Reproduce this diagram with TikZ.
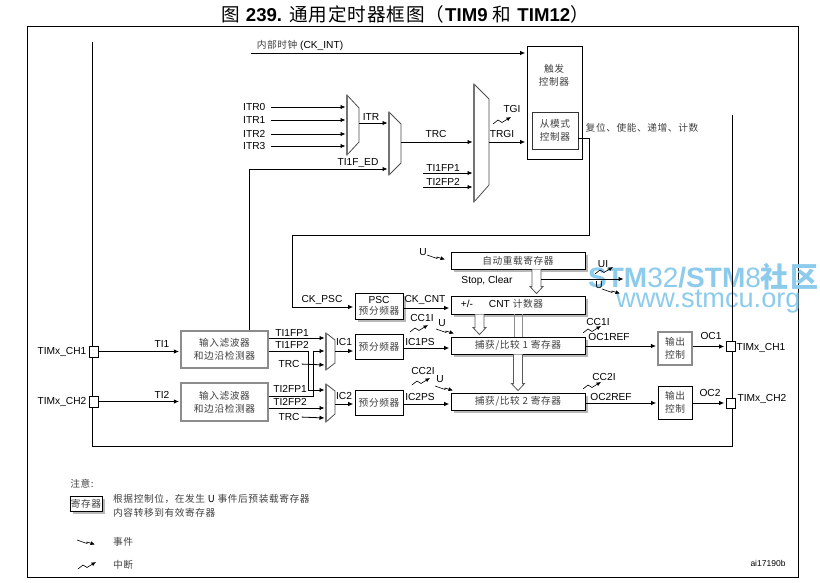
\documentclass[tikz,border=0pt]{standalone}
\usepackage{fontspec}
\setmainfont{Liberation Sans}
\newfontfamily\cjk[LetterSpace=6]{Noto Sans CJK SC}
\newfontfamily\cjkhead[LetterSpace=5]{Noto Sans CJK SC}
\usetikzlibrary{arrows.meta,calc,shadows}
\newcommand{\zh}[1]{{\cjk\fontsize{9.7}{13}\selectfont\color{black!75}#1}}
\definecolor{wmark}{RGB}{140,203,236}
\tikzset{
	sig/.style={line width=0.8pt, shorten >=1.5pt, -{Latex[length=5pt,width=4.5pt]}},
	wire/.style={line width=0.8pt},
	lab/.style={inner sep=0pt, text height=7.2pt, text depth=0pt},
	boxsize/.style 2 args={minimum width=#1pt, minimum height=#2pt},
	plainbox/.style={draw, line width=0.8pt, fill=white, inner sep=0pt, align=center},
	greybox/.style={plainbox, draw=black!45, line width=1.1pt},
	regbox/.style={plainbox, general shadow={fill=black!28, shadow xshift=2.5pt, shadow yshift=-2.5pt}},
	pinbox/.style={draw, line width=0.8pt, fill=white, inner sep=0pt},
	muxline/.style={line width=0.8pt, draw=black!70, fill=white},
	hollow/.style={line width=0.8pt, draw=black!65, fill=white},
	irqmark/.pic={\draw[line width=0.6pt, -{Latex[length=4.5pt,width=4pt]}] (0,0) -- (5,-4) -- (9,-1.5) -- (13,-4) -- (18,-7);},
	eventmark/.pic={\draw[line width=0.6pt, -{Latex[length=4.5pt,width=4pt]}] (0,0) -- (10,3.5) -- (10,2) -- (18,4.5);}
}

\begin{document}
\begin{tikzpicture}[x=1pt, y=-1pt, font=\fontsize{10.2}{13}\selectfont]
	\useasboundingbox (0,0) rectangle (820,582);
	% title and frame
	\node[inner sep=0pt, font=\fontsize{18.6}{20}\selectfont] (title) at (405,14) {{\cjkhead 图} \textbf{239.} {\cjkhead 通用定时器框图（}\textbf{TIM9} {\cjkhead 和} \textbf{TIM12}{\cjkhead ）}};
	\draw[line width=0.9pt] (27,26) rectangle (798,577);
	% watermark, below the lines
	\node[inner sep=0pt, anchor=west, text=wmark, font=\fontsize{28}{30}\selectfont] (wmarkA) at (588,277) {\textbf{STM}32\textbf{/STM}8\textbf{\cjk 社区}};
	\node[inner sep=0pt, anchor=west, text=wmark, font=\fontsize{27.2}{30}\selectfont] (wmarkB) at (616,302) {www.stmcu.org};
	% bus round the timer
	\coordinate (busA) at (92,42);
	\coordinate (busB) at (92,446);
	\coordinate (busC) at (732,446);
	\coordinate (busD) at (732,115);
	\draw[wire] (busA) -- (busB) -- (busC) -- (busD);
	% boxes
	\node[plainbox, boxsize={55}{113}, general shadow={fill=black!40, shadow xshift=0.8pt, shadow yshift=-0.8pt}] (trig) at (554.5,102.5) {};
	\node[inner sep=0pt, align=center] (trigtxt) at (554,75) {\zh{触发}\\\zh{控制器}};
	\node[plainbox, boxsize={46}{37}, draw=black!80] (slave) at (555,130.5) {\zh{从模式}\\\zh{控制器}};
	\node[regbox, boxsize={134}{17}] (arr) at (518,260.5) {\zh{自动重载寄存器}};
	\node[regbox, boxsize={134}{18}] (cnt) at (518,305) {};
	\node[lab] (cntsign) at (467,304) {+/-};
	\node[lab] (cnttxt) at (516,304) {CNT \zh{计数器}};
	\node[regbox, boxsize={48}{26}] (psc) at (379,306) {PSC\\[-1.5pt]\zh{预分频器}};
	\node[plainbox, boxsize={48}{25}] (preA) at (379,346.5) {\zh{预分频器}};
	\node[plainbox, boxsize={48}{25}] (preB) at (379,402.5) {\zh{预分频器}};
	\node[greybox, boxsize={87}{37}] (filtA) at (224.5,349.5) {\zh{输入滤波器}\\\zh{和边沿检测器}};
	\node[greybox, boxsize={87}{38}] (filtB) at (224.5,402) {\zh{输入滤波器}\\\zh{和边沿检测器}};
	\node[greybox, boxsize={34}{33}] (outA) at (675,348.5) {\zh{输出}\\\zh{控制}};
	\node[plainbox, boxsize={34}{33}] (outB) at (675,402.5) {\zh{输出}\\\zh{控制}};
	% block arrows between registers
	\draw[line width=1pt, draw=black!45] (514,314) -- (514,337) (522,314) -- (522,337);
	\node[regbox, boxsize={134}{17}] (capA) at (518,345.5) {\zh{捕获/比较 1 寄存器}};
	\node[regbox, boxsize={134}{17}] (capB) at (518,401.5) {\zh{捕获/比较 2 寄存器}};
	\foreach \from/\to/\xx in {arr/cnt/536.5, cnt/capA/479.5, capA/capB/518} {
		\coordinate (bs) at (\from.south -| \xx,0);
		\coordinate (be) at ($(\to.north -| \xx,0)+(0,-2)$);
		\draw[hollow] ($(bs)+(-4.5,0)$) -- ($(be)+(-4.5,-7)$) -- ($(be)+(-6.5,-7)$) -- (be) -- ($(be)+(6.5,-7)$) -- ($(be)+(4.5,-7)$) -- ($(bs)+(4.5,0)$);
	}
	% multiplexers
	\foreach \xa/\xb/\ya/\yb/\yc/\yd in {347/359/95/108/142/155, 389/401/112/124/163/175, 474/489/84/99/185/202, 326/335/333/340/363/370, 326/335/384/391/414/422} {
		\draw[muxline] (\xa,\ya) -- (\xb,\yb) -- (\xb,\yc) -- (\xa,\yd) -- cycle;
		\draw[line width=1.2pt, black!55] (\xa,\ya) -- (\xa,\yd);
	}
	\coordinate (mxA) at (347,123);
	\coordinate (mxAo) at (359,123);
	\coordinate (mxB) at (389,142);
	\coordinate (mxBo) at (401,142);
	\coordinate (mxC) at (474,142);
	\coordinate (mxCo) at (489,142);
	\coordinate (mxDa) at (326,338);
	\coordinate (mxDb) at (326,351);
	\coordinate (mxDc) at (326,365);
	\coordinate (mxDo) at (335,351);
	\coordinate (mxEa) at (326,390);
	\coordinate (mxEb) at (326,408);
	\coordinate (mxEc) at (326,418);
	\coordinate (mxEo) at (335,404);
	% plain labels
	\foreach \nm/\xx/\yy/\txt in {lbITR/371/117/ITR, lbTRC/436/134/TRC, lbTRGI/502/134/TRGI, lbTGI/512/109/TGI,
		lbED/358/162/TI1F\_ED, lbFPa/443/168/TI1FP1, lbFPb/443/182/TI2FP2, lbPSC/322/299/CK\_PSC, lbCNT/425/299/CK\_CNT,
		lbStop/487/280/{Stop, Clear}, lbUI/603/264/UI, lbUb/599/285/U, lbUa/423/252/U,
		lbTIa/162/344/TI1, lbTIb/162/395/TI2, lbAa/292/333/TI1FP1, lbAb/292/345/TI1FP2, lbBa/290/389/TI2FP1, lbBb/290/402/TI2FP2,
		lbICa/344/342/IC1, lbICb/344/396/IC2, lbPSa/420/342/IC1PS, lbPSb/420/397/IC2PS,
		lbCCa/422/318/CC1I, lbUc/442/323/U, lbCCb/423/371/CC2I, lbUd/440/379/U,
		lbCCc/598/322/CC1I, lbCCd/604/377/CC2I, lbREFa/609/337/OC1REF, lbREFb/611/397/OC2REF,
		lbOCa/711/336/OC1, lbOCb/710/393/OC2, lbCHa/62/351/TIMx\_CH1, lbCHb/62/401/TIMx\_CH2, lbCHc/761/347/TIMx\_CH1, lbCHd/762/398/TIMx\_CH2}
		\node[lab] (\nm) at (\xx,\yy) {\txt};
	\node[lab] (lbTRCa) at (289,364) {TRC};
	\node[lab] (lbTRCb) at (289,417) {TRC};
	\node[lab] (lbClk) at (300,45) {\zh{内部时钟} (CK\_INT)};
	\node[lab] (lbRst) at (642,128) {\zh{复位、使能、递增、计数}};
	% internal clock and trigger inputs
	\coordinate (clkin) at (251,53);
	\draw[sig] (clkin) -- (clkin -| trig.west);
	\foreach \nn/\yy in {0/107, 1/120, 2/134, 3/146} {
		\node[lab, anchor=west] (itr\nn) at (243,\yy) {ITR\nn};
		\draw[sig, shorten <=5pt] (itr\nn.east) -- (mxA |- itr\nn.east);
	}
	\draw[sig] (mxAo) -- (mxAo -| mxB);
	\draw[sig] (mxBo) -- (mxBo -| mxC);
	\draw[sig] (mxCo) -- (mxCo -| trig.west);
	\coordinate (edtap) at (249.5,169);
	\draw[sig] (edtap |- filtA.north) -- (edtap) -- (edtap -| mxB);
	\coordinate (fpinA) at (423,173);
	\coordinate (fpinB) at (423,187);
	\draw[sig] (fpinA) -- (fpinA -| mxC);
	\draw[sig] (fpinB) -- (fpinB -| mxC);
	% slave controller output to the prescaler
	\coordinate (rstbend) at (589,138);
	\coordinate (ckturn) at (292,235);
	\coordinate (ckin) at (292,307);
	\draw[sig] (slave.east |- rstbend) -- (rstbend) |- (ckturn) -- (ckin) -- (ckin -| psc.west);
	\coordinate (cnty) at (0,308);
	\draw[sig] (psc.east |- cnty) -- (cnt.west |- cnty);
	\coordinate (stopout) at (541,279);
	\coordinate (stopend) at (625,279);
	\draw[sig] (stopout) -- (stopend);
	% input channels
	\node[pinbox, boxsize={9}{11}] (pinA) at (93.5,351.5) {};
	\node[pinbox, boxsize={9}{11}] (pinB) at (93.5,401.5) {};
	\node[pinbox, boxsize={9}{9.5}] (pinC) at (730.5,346.5) {};
	\node[pinbox, boxsize={9}{10}] (pinD) at (730.5,403) {};
	\draw[sig] (pinA.east) -- (filtA.west |- pinA.east);
	\draw[sig] (pinB.east) -- (filtB.west |- pinB.east);
	\coordinate (crossA) at (308,351);
	\coordinate (crossB) at (313,396);
	\draw[sig] (filtA.east |- mxDa) -- (mxDa);
	\draw[sig] (filtA.east |- crossA) -- (crossA) |- (mxEa);
	\draw[sig] (filtB.east |- crossB) -- (crossB) |- (mxDb);
	\draw[sig] (filtB.east |- mxEb) -- (mxEb);
	\draw[sig, shorten <=2pt] (lbTRCa.east) -- (mxDc);
	\draw[sig, shorten <=2pt] (lbTRCb.east) -- (mxEc);
	\draw[sig] (mxDo) -- (mxDo -| preA.west);
	\draw[sig] (mxEo) -- (mxEo -| preB.west);
	\coordinate (psy) at (0,348);
	\coordinate (pty) at (0,404);
	\draw[sig] (preA.east |- psy) -- (capA.west |- psy);
	\draw[sig] (preB.east |- pty) -- (capB.west |- pty);
	% output channels
	\coordinate (refy) at (0,346);
	\coordinate (rety) at (0,403);
	\draw[sig] (capA.east |- refy) -- (outA.west |- refy);
	\draw[sig] (capB.east |- rety) -- (outB.west |- rety);
	\draw[sig] (outA.east |- pinC.west) -- (pinC.west);
	\draw[sig] (outB.east |- pinD.west) -- (pinD.west);
	% event and interrupt marks
	\pic at (493,124) {irqmark};
	\pic at (595,274) {irqmark};
	\pic at (410,332) {irqmark};
	\pic at (412,385) {irqmark};
	\pic at (583,333) {irqmark};
	\pic at (583,389) {irqmark};
	\pic at (427,255) {eventmark};
	\pic at (602,289) {eventmark};
	\pic at (436,329) {eventmark};
	\pic at (435,386) {eventmark};
	% legend
	\node[lab] (lbNote) at (82,484) {\zh{注意:}};
	\node[regbox, boxsize={32}{15}] (lgbox) at (86,503.5) {\zh{寄存器}};
	\node[lab, anchor=west] (lgtxtA) at (113,499) {\zh{根据控制位，在发生 \textcolor{black}{U} 事件后预装载寄存器}};
	\node[lab, anchor=west] (lgtxtB) at (113,513) {\zh{内容转移到有效寄存器}};
	\pic at (77,540) {eventmark};
	\node[lab, anchor=west] (lgEvent) at (113,542) {\zh{事件}};
	\pic at (78,569) {irqmark};
	\node[lab, anchor=west] (lgIrq) at (113,565) {\zh{中断}};
	\node[lab, font=\fontsize{8.5}{10}\selectfont] (figid) at (768,563) {ai17190b};
\end{tikzpicture}
\end{document}
